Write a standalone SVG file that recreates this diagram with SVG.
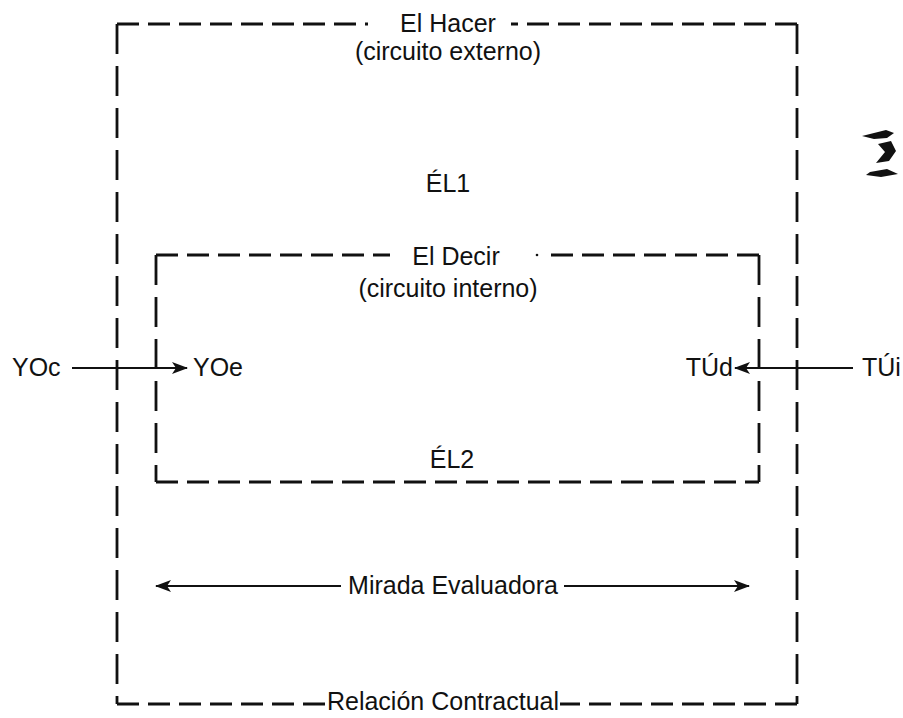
<svg xmlns="http://www.w3.org/2000/svg" width="903" height="718" viewBox="0 0 903 718">
  <style>
    .t { font-family: "Liberation Sans", Arial, Helvetica, sans-serif; font-size: 25px; fill: #111; }
    .m { text-anchor: middle; }
    .e { text-anchor: end; }
    .h { fill: none; stroke: #111; stroke-width: 2.8; stroke-dasharray: 22 9; }
    .v { fill: none; stroke: #111; stroke-width: 2.8; stroke-dasharray: 30 12; }
    .ln { fill: none; stroke: #111; stroke-width: 2.2; }
  </style>
  <defs>
    <marker id="ah" viewBox="0 0 16 12" refX="15" refY="6" markerWidth="16" markerHeight="12" markerUnits="userSpaceOnUse" orient="auto-start-reverse">
      <path d="M0,0 L16,6 L0,12 L4,6 Z" fill="#111"/>
    </marker>
  </defs>
  <rect width="903" height="718" fill="#fff"/>

  <!-- outer frame: El Hacer -->
  <g id="hacer">
    <line class="h" x1="117" y1="24" x2="368" y2="24"/>
    <line class="h" x1="797" y1="24" x2="511" y2="24"/>
    <line class="v" x1="117" y1="24" x2="117" y2="704"/>
    <line class="v" x1="797" y1="24" x2="797" y2="704"/>
    <line class="h" x1="117" y1="704" x2="326" y2="704"/>
    <line class="h" x1="797" y1="704" x2="560" y2="704"/>
    <text class="t m" x="448" y="32">El Hacer</text>
    <text class="t m" x="448" y="60">(circuito externo)</text>
    <text class="t m" x="448" y="192">ÉL1</text>
    <text class="t m" x="443" y="710">Relación Contractual</text>
  </g>

  <!-- inner frame: El Decir -->
  <g id="decir">
    <line class="h" x1="156" y1="255" x2="390" y2="255"/>
    <line class="h" x1="759" y1="255" x2="547" y2="255"/>
    <circle cx="537" cy="255" r="1.3" fill="#111"/>
    <line class="v" x1="156" y1="255" x2="156" y2="482"/>
    <line class="v" x1="759" y1="255" x2="759" y2="482"/>
    <line class="h" x1="156" y1="482" x2="759" y2="482"/>
    <text class="t m" x="456" y="265">El Decir</text>
    <text class="t m" x="448" y="297">(circuito interno)</text>
    <text class="t m" x="452" y="468">ÉL2</text>
  </g>

  <g id="yoc"><text class="t" x="12" y="376">YOc</text></g>
  <g id="yoe"><text class="t" x="193" y="376">YOe</text></g>
  <g id="tud"><text class="t e" x="733" y="376">TÚd</text></g>
  <g id="tui"><text class="t" x="862" y="376">TÚi</text></g>
  <g id="mirada"><text class="t m" x="453" y="594">Mirada Evaluadora</text></g>

  <!-- connectors -->
  <g id="connectors">
    <line class="ln" x1="72" y1="368" x2="187" y2="368" marker-end="url(#ah)"/>
    <line class="ln" x1="853" y1="368" x2="735" y2="368" marker-end="url(#ah)"/>
    <line class="ln" x1="341" y1="586" x2="156" y2="586" marker-end="url(#ah)"/>
    <line class="ln" x1="564" y1="586" x2="749" y2="586" marker-end="url(#ah)"/>
  </g>

  <!-- ink smudge at the right margin -->
  <g id="smudge" fill="#111">
    <path d="M862,136 L886,130 L894,133 L887,138 L874,139 Z"/>
    <path d="M878,144 L891,141 L896,151 L889,161 L876,163 L885,152 Z"/>
    <path d="M870,172 L887,169 L898,174 L881,177 L866,175 Z"/>
  </g>
</svg>
